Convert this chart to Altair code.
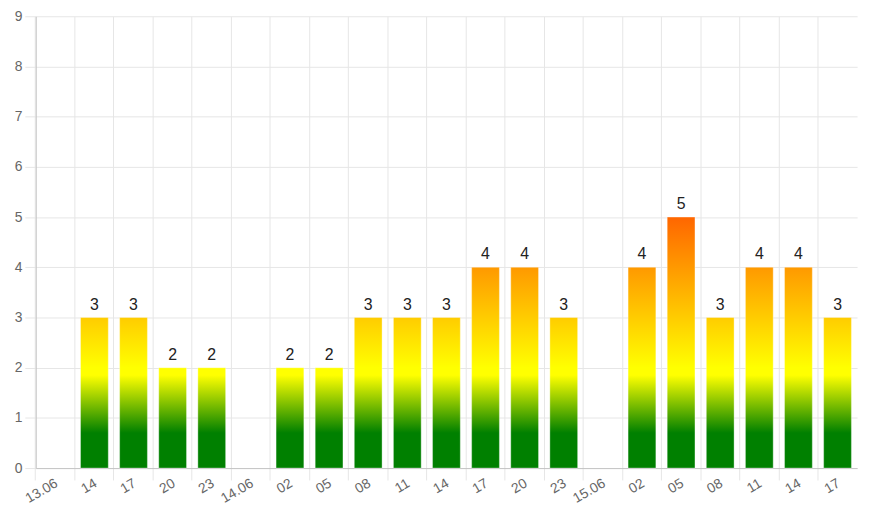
import json
import altair as alt
import pandas as pd

# ---- data ----
slots = ["13.06", "14", "17", "20", "23", "14.06", "02", "05", "08", "11", "14",
         "17", "20", "23", "15.06", "02", "05", "08", "11", "14", "17"]
counts = [None, 3, 3, 2, 2, None, 2, 2, 3, 3, 3, 4, 4, 3, None, 4, 5, 3, 4, 4, 3]
y_ticks = [0, 1, 2, 3, 4, 5, 6, 7, 8, 9]

keys = [f"{i:02d}" for i in range(len(slots))]
df = pd.DataFrame({"key": keys, "label": slots, "count": counts})

# ---- style: colour ramp in value units (absolute gradient) ----
ramp = [(0.0, "#008000"), (0.7, "#008000"), (1.85, "#ffff00"),
        (2.0, "#ffff00"), (5.0, "#ff6600"), (9.0, "#ff0000")]


def _rgb(h):
    h = h.lstrip("#")
    return [int(h[i:i + 2], 16) for i in (0, 2, 4)]


def color_at(v):
    for (v0, c0), (v1, c1) in zip(ramp[:-1], ramp[1:]):
        if v0 <= v <= v1:
            t = 0 if v1 == v0 else (v - v0) / (v1 - v0)
            a, b = _rgb(c0), _rgb(c1)
            return "#" + "".join(f"{round(x + (y - x) * t):02x}" for x, y in zip(a, b))
    return ramp[-1][1]


def gradient_for(h):
    stops = [alt.GradientStop(color=color_at(h), offset=0)]
    for v, c in reversed(ramp):
        if v < h:
            stops.append(alt.GradientStop(color=c, offset=round((h - v) / h, 4)))
    return alt.Gradient(gradient="linear", stops=stops, x1=0, x2=0, y1=0, y2=1)


FONT = "Liberation Sans"
GRID = "#e6e6e6"
DOMAIN = "#c4c4c4"
PAD_INNER = 0.29

label_expr = json.dumps(slots) + "[toNumber(datum.value)]"

x_enc = alt.X(
    "key:N",
    scale=alt.Scale(domain=keys, paddingInner=PAD_INNER, paddingOuter=PAD_INNER / 2),
    axis=alt.Axis(
        title=None, labelExpr=label_expr, labelAngle=-30, labelAlign="right",
        labelBaseline="top", labelOffset=-2, labelPadding=-4,
        bandPosition=-(PAD_INNER / 2) / (1 - PAD_INNER),
        grid=True, gridColor=GRID, tickColor=GRID, tickSize=12,
        domainColor=DOMAIN, labelColor="#666666", labelFontSize=14,
        labelFont=FONT, labelOverlap=False,
    ),
)
y_enc = alt.Y(
    "count:Q",
    scale=alt.Scale(domain=[0, 9], nice=False),
    axis=alt.Axis(
        title=None, values=y_ticks, grid=True, gridColor=GRID, tickColor=GRID,
        tickSize=11, labelPadding=3, domainColor=DOMAIN, labelColor="#666666",
        labelFontSize=14, labelFont=FONT,
    ),
)

base = alt.Chart(df)
layers = []
for h in sorted({c for c in counts if c is not None}):
    layers.append(
        base.transform_filter(alt.datum["count"] == h)
        .mark_bar(color=gradient_for(h), stroke="#ffffff", strokeOpacity=0.35, strokeWidth=1)
        .encode(x=x_enc, y=y_enc)
    )

text = (
    base.transform_filter("isValid(datum['count'])")
    .mark_text(dy=-8, baseline="alphabetic", fontSize=16, font=FONT, color="#222222")
    .encode(x=x_enc, y=y_enc, text="count:Q")
)

chart = (
    alt.layer(*layers, text)
    .properties(width=829, height=456, autosize="none",
                padding={"left": 28, "top": 6, "right": 10, "bottom": 45})
    .configure_view(stroke=None)
)

chart.save("out.html", embed_options={"renderer": "svg", "actions": False})
